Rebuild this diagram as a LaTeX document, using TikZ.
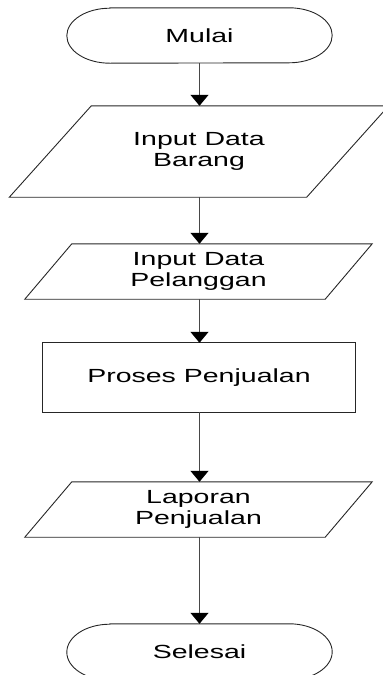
\documentclass[tikz,border=0pt]{standalone}
\usepackage{fontspec}
\newfontfamily\flowfont[FakeStretch=1.5]{Liberation Sans}
\usetikzlibrary{arrows.meta}
\begin{document}
\begin{tikzpicture}[x=1pt,y=1pt,
  box/.style={inner sep=0pt, font=\flowfont\fontsize{19}{21}\selectfont, align=center, text=black},
  outline/.style={draw=black!85, line width=0.9pt},
  flow/.style={draw=black!72, line width=1.2pt, -{Triangle[width=18pt,length=11pt,color=black]}}]
\clip (0,0) rectangle (383,-675);
% nodes
\node[box, minimum width=265pt, minimum height=55pt] (start) at (199.5,-35.5) {Mulai};
\node[box, minimum width=379pt, minimum height=91pt] (p1) at (199,-151.5) {Input Data\\Barang};
\node[box, minimum width=347pt, minimum height=55pt] (p2) at (198.5,-271.5) {Input Data\\Pelanggan};
\node[box, minimum width=312pt, minimum height=69pt] (proc) at (199,-377.5) {Proses Penjualan};
\node[box, minimum width=347pt, minimum height=55pt] (p3) at (198.5,-509.5) {Laporan\\Penjualan};
\node[box, minimum width=265pt, minimum height=56pt] (end) at (199.5,-652) {Selesai};
% shapes
\draw[outline] ([xshift=43pt]start.north west) -- ([xshift=-43pt]start.north east)
  arc[start angle=90,end angle=-90,x radius=43pt,y radius=27.5pt]
  -- ([xshift=43pt]start.south west)
  arc[start angle=270,end angle=90,x radius=43pt,y radius=27.5pt] -- cycle;
\draw[outline] ([xshift=82pt]p1.north west) -- (p1.north east) -- ([xshift=-82pt]p1.south east) -- (p1.south west) -- cycle;
\draw[outline] ([xshift=47pt]p2.north west) -- (p2.north east) -- ([xshift=-47pt]p2.south east) -- (p2.south west) -- cycle;
\draw[outline] (proc.north west) rectangle (proc.south east);
\draw[outline] ([xshift=47pt]p3.north west) -- (p3.north east) -- ([xshift=-47pt]p3.south east) -- (p3.south west) -- cycle;
\draw[outline] ([xshift=43pt]end.north west) -- ([xshift=-43pt]end.north east)
  arc[start angle=90,end angle=-90,x radius=43pt,y radius=28pt]
  -- ([xshift=43pt]end.south west)
  arc[start angle=270,end angle=90,x radius=43pt,y radius=28pt] -- cycle;
% connectors
\draw[flow] (start.south) -- (start.south |- p1.north);
\draw[flow] (start.south |- p1.south) -- (start.south |- p2.north);
\draw[flow] (start.south |- p2.south) -- (start.south |- proc.north);
\draw[flow] (start.south |- proc.south) -- (start.south |- p3.north);
\draw[flow] (start.south |- p3.south) -- (end.north);
\end{tikzpicture}
\end{document}
